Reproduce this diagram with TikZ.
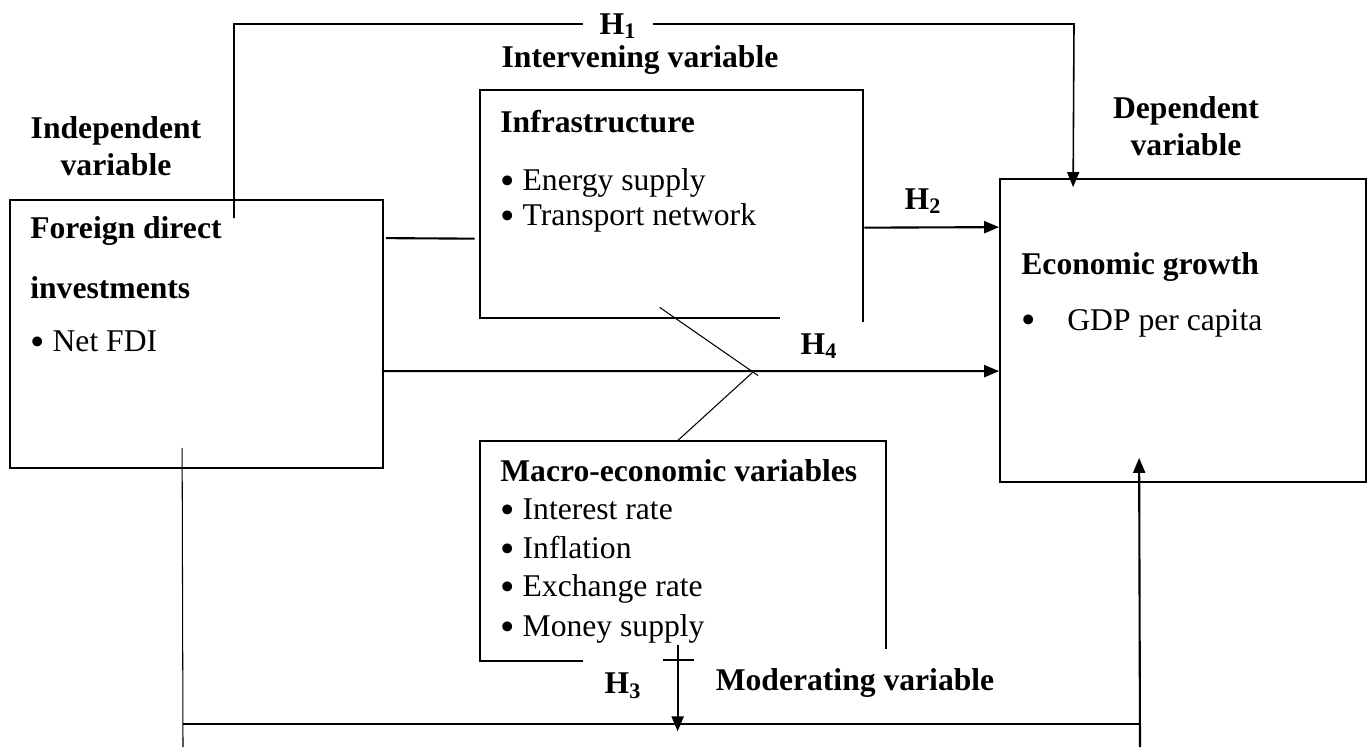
\documentclass[tikz,border=0pt]{standalone}
\usepackage{fontspec}
\setmainfont{Liberation Serif}
\usetikzlibrary{arrows.meta, positioning, calc}
\newcommand{\dotmark}{\raisebox{-0.12em}{\scalebox{1.3}{\textbullet}}}

\begin{document}
\begin{tikzpicture}[
  font=\fontsize{18}{21}\selectfont,
  box/.style={draw, line width=1pt, inner sep=0pt},
  area/.style={inner sep=0pt},
  txt/.style={inner sep=0pt, anchor=west},
  head/.style={font=\fontsize{18}{21}\selectfont\bfseries, inner sep=0pt},
  thinline/.style={line width=0.6pt},
  link/.style={line width=1.2pt, -{Triangle[length=0.3cm, width=0.24cm]}},
]
\useasboundingbox (0,0) rectangle (27.34,-14.94);

% boxes
\node[box, minimum width=7.46cm, minimum height=5.36cm] (fdi) at (3.93,-6.68) {};
\node[area, minimum width=7.66cm, minimum height=4.56cm] (infra) at (13.43,-4.08) {};
\node[box, minimum width=7.32cm, minimum height=6.06cm] (econ) at (23.66,-6.61) {};
\node[area, minimum width=8.12cm, minimum height=4.4cm] (macro) at (13.66,-11.02) {};

% open outlines of the two middle boxes
\draw[line width=1pt] ($(infra.south west)+(6.0,0)$) -- (infra.south west) |- (infra.north east) -- ($(infra.south east)+(0,-0.08)$);
\draw[line width=1pt] ($(macro.south west)+(2.06,0)$) -- (macro.south west) |- (macro.north east) -- ($(macro.south east)+(0,0.24)$);
\draw[line width=1pt] ($(macro.south west)+(3.66,0.02)$) -- ++(0.62,0);

% box contents
\node[head, anchor=west] (fdititle) at (0.6,-4.62) {Foreign direct};
\node[head, anchor=west] (fdititleb) at (0.6,-5.76) {investments};
\node[txt] (fdiitem) at (0.6,-6.86) {\dotmark\ Net FDI};

\node[head, anchor=west] (infratitle) at (10.0,-2.44) {Infrastructure};
\node[txt] (infraa) at (10.0,-3.66) {\dotmark\ Energy supply};
\node[txt] (infrab) at (10.0,-4.36) {\dotmark\ Transport network};

\node[head, anchor=west] (econtitle) at (20.42,-5.34) {Economic growth};
\node[txt] (econitem) at (20.42,-6.46) {\makebox[0.92cm][l]{\dotmark}GDP per capita};

\node[head, anchor=west] (macrotitle) at (10.0,-9.42) {Macro-economic variables};
\node[txt] (macroa) at (10.0,-10.22) {\dotmark\ Interest rate};
\node[txt] (macrob) at (10.0,-10.98) {\dotmark\ Inflation};
\node[txt] (macroc) at (10.0,-11.78) {\dotmark\ Exchange rate};
\node[txt] (macrod) at (10.0,-12.58) {\dotmark\ Money supply};

% variable labels
\node[head, align=center] (indep) at (2.32,-2.92) {Independent\\variable};
\node[head, align=center] (dep) at (23.72,-2.52) {Dependent\\variable};
\node[head] (interv) at (12.8,-1.2) {Intervening variable};
\node[head] (moder) at (17.1,-13.66) {Moderating variable};

% H1: direct path over the top
\coordinate (h1start) at (4.68,-4.36);
\draw[line width=0.9pt, -{Triangle[length=0.3cm, width=0.24cm]}] (h1start) |- (21.48,-0.48) -- ($(econ.north west)+(1.48,-0.18)$);
\node[head, fill=white, inner xsep=0.33cm, inner ysep=0pt] (hone) at (12.36,-0.52) {H\textsubscript{1}};

% FDI to infrastructure
\draw[line width=1.2pt] ($(fdi.north east)+(0.04,-0.78)$) -- ($(infra.north west)+(-0.1,-2.98)$);

% H2
\draw[link] ($(infra.north east)+(0.02,-2.76)$) -- ($(econ.north west)+(0,-0.98)$);
\node[head] (htwo) at (18.46,-4.02) {H\textsubscript{2}};

% H4 with the two moderating strokes
\draw[link] ($(fdi.north east)+(-0.04,-3.44)$) -- ($(econ.north west)+(0,-3.86)$);
\node[head] (hfour) at (16.38,-6.92) {H\textsubscript{4}};
\coordinate (vtip) at (15.06,-7.44);
\draw[thinline] ($(infra.south west)+(3.6,0.22)$) -- ($(vtip)+(0.1,-0.07)$);
\draw[thinline] (vtip) -- ($(macro.north west)+(3.96,0)$);

% H3
\draw[link] ($(macro.south west)+(3.96,0.32)$) -- ($(macro.south west)+(3.96,-1.4)$);
\node[head] (hthree) at (12.46,-13.72) {H\textsubscript{3}};

% bottom loop into economic growth
\coordinate (dropl) at (3.66,-14.94);
\coordinate (dropr) at (22.8,-14.94);
\draw[thinline] ($(fdi.south west)+(3.46,0.42)$) -- (dropl);
\draw[line width=0.9pt] (3.66,-14.48) -- (22.8,-14.48);
\draw[link] (dropr) -- ($(econ.south west)+(2.8,0.5)$);
\end{tikzpicture}
\end{document}
